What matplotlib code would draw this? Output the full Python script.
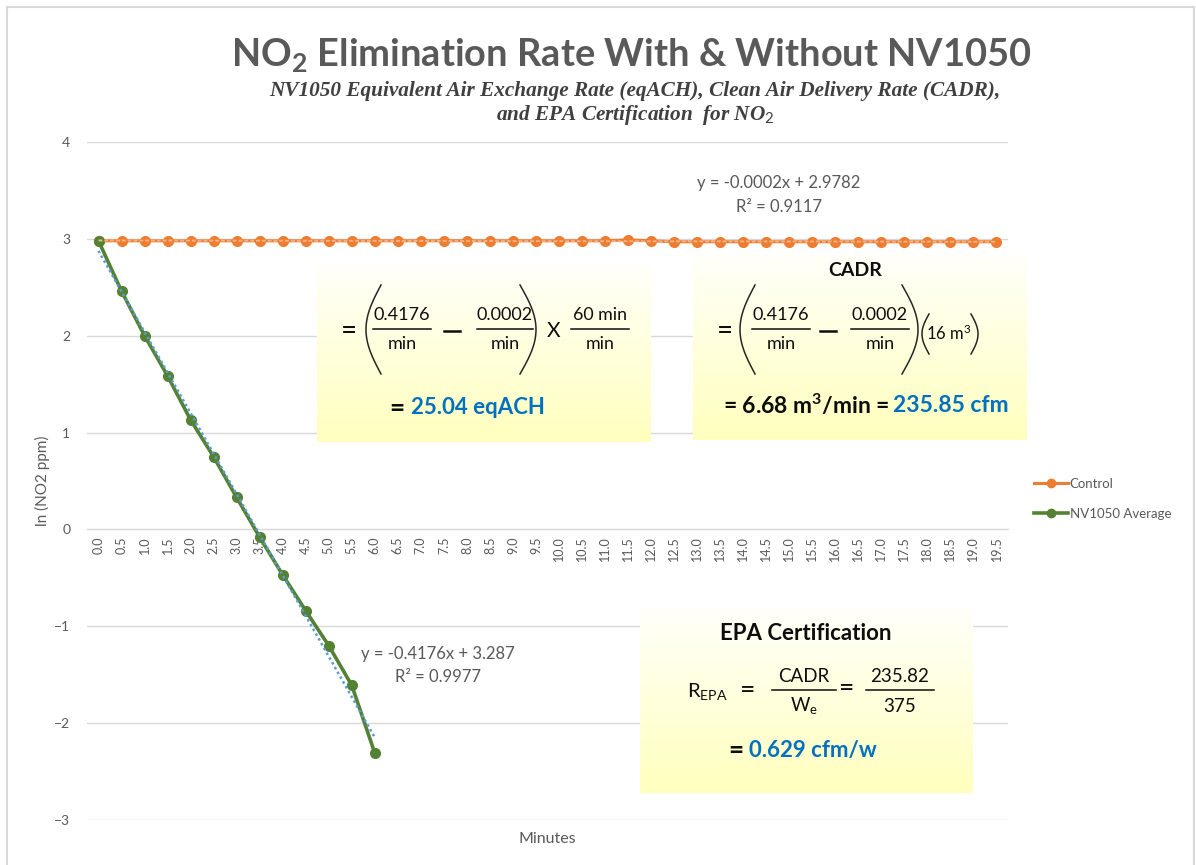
import numpy as np
import matplotlib
matplotlib.use("Agg")
import matplotlib.pyplot as plt
from matplotlib.lines import Line2D
from matplotlib.patches import Rectangle

plt.rcParams["font.family"] = ["Lato", "DejaVu Sans"]
plt.rcParams["mathtext.fontset"] = "custom"
plt.rcParams["mathtext.rm"] = "Lato"
plt.rcParams["mathtext.it"] = "Lato:italic"
plt.rcParams["mathtext.bf"] = "Lato:bold"

W, H = 1196, 865
GRAY = "#595959"
BLUE = "#0070C0"
ORANGE = "#ED7D31"
GREEN = "#548235"
TXT = "#0D0D0D"

# ---- data ----
minutes = ["0.0", "0.5", "1.0", "1.5", "2.0", "2.5", "3.0", "3.5", "4.0", "4.5",
           "5.0", "5.5", "6.0", "6.5", "7.0", "7.5", "8.0", "8.5", "9.0", "9.5",
           "10.0", "10.5", "11.0", "11.5", "12.0", "12.5", "13.0", "13.5", "14.0", "14.5",
           "15.0", "15.5", "16.0", "16.5", "17.0", "17.5", "18.0", "18.5", "19.0", "19.5"]
control = [2.98, 2.98, 2.98, 2.98, 2.98, 2.98, 2.98, 2.98, 2.98, 2.98,
           2.98, 2.98, 2.98, 2.98, 2.98, 2.98, 2.98, 2.98, 2.98, 2.98,
           2.98, 2.98, 2.98, 2.99, 2.98, 2.97, 2.97, 2.97, 2.97, 2.97,
           2.97, 2.97, 2.97, 2.97, 2.97, 2.97, 2.97, 2.97, 2.97, 2.97]
nv1050 = [2.98, 2.46, 2.00, 1.585, 1.13, 0.75, 0.33, -0.08, -0.47, -0.84,
          -1.20, -1.61, -2.31]

ctrl_eq = ["y = -0.0002x + 2.9782", "R\u00b2 = 0.9117"]
nv_eq = ["y = -0.4176x + 3.287", "R\u00b2 = 0.9977"]


def fx(px):
    return px / W


def fy(py):
    return 1 - py / H


fig = plt.figure(figsize=(W / 100, H / 100), dpi=100)


def t(x, y, s, size=13, color=TXT, ha="center", **kw):
    fig.text(fx(x), fy(y), s, ha=ha, va="center", fontsize=size, color=color,
             zorder=5, **kw)


def frac(xc, y, num, den, width, size=13, up=14, down=15):
    t(xc, y - up, num, size=size)
    t(xc, y + down, den, size=size)
    fig.add_artist(Line2D([fx(xc - width / 2), fx(xc + width / 2)], [fy(y), fy(y)],
                          transform=fig.transFigure, color=TXT, lw=1.1, zorder=5))


def paren(x, ytop, ybot, bulge, left=True):
    s = np.linspace(0, 1, 60)
    ys = ytop + (ybot - ytop) * s
    if left:
        xs = x - bulge * np.sin(np.pi * s)
    else:
        xs = x + bulge * np.sin(np.pi * s)
    fig.add_artist(Line2D(fx(xs), fy(ys), transform=fig.transFigure, color="#262626",
                          lw=1.1, zorder=5))


def minus(xc, y, half=8):
    fig.add_artist(Line2D([fx(xc - half), fx(xc + half)], [fy(y), fy(y)],
                          transform=fig.transFigure, color=TXT, lw=1.8, zorder=5))


# chart border
fig.patches.append(Rectangle((fx(7), fy(900)), fx(1194) - fx(7), fy(7) - fy(900),
                             transform=fig.transFigure, fill=False,
                             edgecolor="#D9D9D9", lw=1.5))

ax = fig.add_axes([fx(87), fy(820), fx(1008) - fx(87), fy(142) - fy(820)])
xc = np.arange(len(minutes))
xn = np.arange(len(nv1050))

ax.plot(xc, control, color=ORANGE, lw=2.2, marker="o", ms=7, zorder=3)
ax.plot(xn, nv1050, color=GREEN, lw=2.6, marker="o", ms=7, zorder=3)

# linear trendlines (Excel style, x = 1..n)
pc = np.polyfit(xc + 1, control, 1)
ax.plot(xc, np.polyval(pc, xc + 1), color="#F4B183", lw=1.4, ls=(0, (2, 1)), zorder=4)
pn = np.polyfit(xn + 1, nv1050, 1)
ax.plot(xn, np.polyval(pn, xn + 1), color="#5B9BD5", lw=1.8, ls=(0, (1, 1.2)), zorder=4)

ax.set_xlim(-0.5, len(minutes) - 0.5)
ax.set_ylim(-3, 4)
ax.set_yticks(range(-3, 5))
ax.yaxis.grid(True, color="#D9D9D9", lw=1)
ax.set_axisbelow(True)
for s in ("top", "right", "left"):
    ax.spines[s].set_visible(False)
ax.spines["bottom"].set_position(("data", 0))
ax.spines["bottom"].set_color("#D9D9D9")
ax.set_xticks(xc)
ax.set_xticklabels(minutes, rotation=90, fontsize=9, color=GRAY)
ax.tick_params(axis="x", length=0, pad=5)
ax.tick_params(axis="y", length=0, pad=12, labelsize=10, labelcolor=GRAY)
ax.set_ylabel("ln (NO2 ppm)", fontsize=11, color=GRAY, labelpad=3)
ax.text(0.5, -0.028, "Minutes", transform=ax.transAxes, ha="center", va="center",
        fontsize=11.5, color=GRAY)

# trendline equations
t(779, 183, ctrl_eq[0], size=12, color=GRAY)
t(779, 207, ctrl_eq[1], size=12, color=GRAY)
t(438, 654, nv_eq[0], size=12, color=GRAY)
t(438, 677, nv_eq[1], size=12, color=GRAY)

# legend
handles = [Line2D([], [], color=ORANGE, lw=2.2, marker="o", ms=6),
           Line2D([], [], color=GREEN, lw=2.6, marker="o", ms=6)]
fig.legend(handles, ["Control", "NV1050 Average"], loc="upper left",
           bbox_to_anchor=(fx(1022), fy(466)), frameon=False, fontsize=9.5,
           labelcolor=GRAY, handlelength=2.6, handletextpad=0.1, labelspacing=1.35)

# gradient boxes
grad = np.linspace(0, 1, 256).reshape(-1, 1)
ycmap = matplotlib.colors.LinearSegmentedColormap.from_list("yl", ["#FFFFFA", "#FFFFBE"])


def add_box(x0, y0, x1, y1):
    bx = fig.add_axes([fx(x0), fy(y1), fx(x1) - fx(x0), fy(y0) - fy(y1)], zorder=1)
    bx.imshow(grad, aspect="auto", cmap=ycmap, extent=(0, 1, 1, 0))
    bx.set_axis_off()


add_box(317, 265, 651, 442)
add_box(693, 255, 1027, 440)
add_box(640, 609, 973, 793)

# eqACH box
t(349, 331, "=", size=20)
paren(381, 285, 374, 15, left=True)
frac(402, 329, "0.4176", "min", 58)
minus(452, 331)
frac(505, 329, "0.0002", "min", 56)
paren(520, 285, 374, 16, left=False)
t(554, 331, "X", size=15)
frac(600, 329, "60 min", "min", 58, size=12.8)
t(404, 408, "=", size=19, ha="right", weight="bold")
t(411, 408, "25.04 eqACH", size=16, color=BLUE, ha="left", weight="bold")

# CADR box
t(855, 270, "CADR", size=14, weight="bold")
t(725, 331, "=", size=20)
paren(755, 285, 374, 15, left=True)
frac(781, 329, "0.4176", "min", 58)
minus(828, 331)
frac(880, 329, "0.0002", "min", 58)
paren(902, 285, 374, 16, left=False)
paren(929, 314, 354, 7, left=True)
t(949, 333, r"16 m$^3$", size=12)
paren(971, 314, 354, 7, left=False)
t(890, 405, r"= 6.68 m$^\mathbf{3}$/min =", size=16.5, ha="right", weight="bold")
t(893, 405, "235.85 cfm", size=16.5, color=BLUE, ha="left", weight="bold")

# EPA box
t(806, 633, "EPA Certification", size=16, weight="bold")
t(687, 692, r"R$_\mathrm{EPA}$", size=14.5, ha="left")
t(748, 690, "=", size=19)
frac(804, 690, "CADR", r"W$_\mathrm{e}$", 64, size=13.5, up=13, down=16)
t(847, 689, "=", size=19)
frac(900, 690, "235.82", "375", 68, size=13.5, up=13, down=16)
t(743, 750, "=", size=19, ha="right", weight="bold")
t(749, 750, "0.629 cfm/w", size=16, color=BLUE, ha="left", weight="bold")

# titles
t(631, 55, r"NO$_\mathbf{2}$ Elimination Rate With & Without NV1050", size=27.4,
  color=GRAY, weight="bold")
t(635, 91, "NV1050 Equivalent Air Exchange Rate (eqACH), Clean Air Delivery Rate (CADR),",
  size=15.3, color="#404040", style="italic", weight="bold", family="Liberation Serif")
t(635, 115, r"and EPA Certification  for NO$_2$", size=15.3, color="#404040",
  style="italic", weight="bold", family="Liberation Serif")

fig.savefig("out.png", dpi=100)
